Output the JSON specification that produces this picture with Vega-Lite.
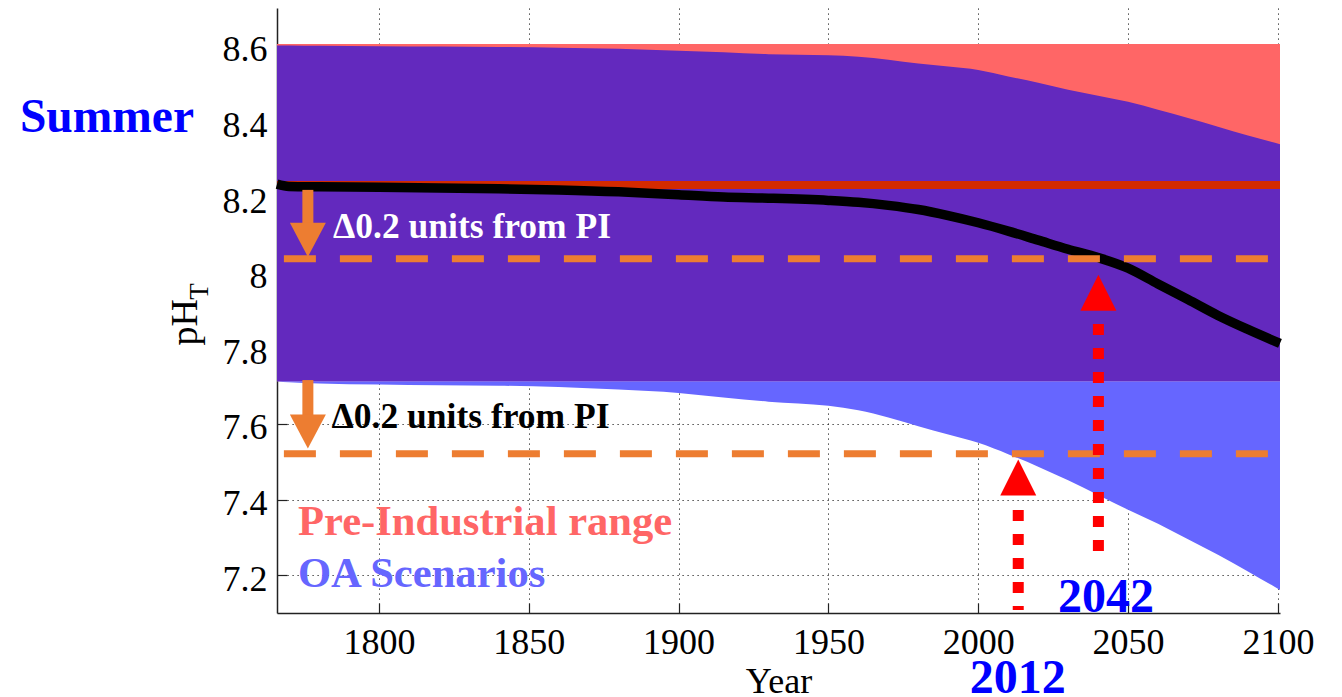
{
  "$schema": "https://vega.github.io/schema/vega-lite/v6.json",
  "width": 1003,
  "height": 605,
  "autosize": {"type": "none"},
  "padding": {"left": 277, "top": 8, "right": 62, "bottom": 84},
  "background": "white",
  "config": {
    "font": "Liberation Serif, Times New Roman, serif",
    "view": {"stroke": null},
    "text": {"font": "Liberation Serif, Times New Roman, serif"},
    "axis": {
      "labelFont": "Liberation Serif, Times New Roman, serif",
      "titleFont": "Liberation Serif, Times New Roman, serif",
      "labelFontSize": 36,
      "titleFontSize": 36,
      "titleFontWeight": "normal",
      "labelColor": "black",
      "titleColor": "black",
      "tickColor": "#222",
      "tickSize": -10,
      "tickWidth": 1.2,
      "domainColor": "#222",
      "domainWidth": 1.5,
      "grid": true,
      "gridColor": "#222",
      "gridDash": [1.2, 3.8],
      "gridWidth": 1,
      "gridOpacity": 1,
      "zindex": 1,
      "labelFlush": false,
      "labelOverlap": false
    }
  },
  "datasets": {
    "series": [
      {"year": 1766, "oa_hi": 8.601, "oa_lo": 7.712, "oa_mean": 8.234, "pi_hi": 8.605, "pi_lo": 7.713, "pi_mean": 8.232},
      {"year": 1770, "oa_hi": 8.601, "oa_lo": 7.710, "oa_mean": 8.228, "pi_hi": 8.605, "pi_lo": 7.713, "pi_mean": 8.232},
      {"year": 1780, "oa_hi": 8.600, "oa_lo": 7.707, "oa_mean": 8.227, "pi_hi": 8.605, "pi_lo": 7.713, "pi_mean": 8.232},
      {"year": 1800, "oa_hi": 8.599, "oa_lo": 7.704, "oa_mean": 8.226, "pi_hi": 8.605, "pi_lo": 7.713, "pi_mean": 8.232},
      {"year": 1820, "oa_hi": 8.598, "oa_lo": 7.702, "oa_mean": 8.224, "pi_hi": 8.605, "pi_lo": 7.713, "pi_mean": 8.232},
      {"year": 1840, "oa_hi": 8.597, "oa_lo": 7.701, "oa_mean": 8.222, "pi_hi": 8.605, "pi_lo": 7.713, "pi_mean": 8.232},
      {"year": 1860, "oa_hi": 8.595, "oa_lo": 7.698, "oa_mean": 8.219, "pi_hi": 8.605, "pi_lo": 7.713, "pi_mean": 8.232},
      {"year": 1880, "oa_hi": 8.592, "oa_lo": 7.691, "oa_mean": 8.214, "pi_hi": 8.605, "pi_lo": 7.713, "pi_mean": 8.232},
      {"year": 1900, "oa_hi": 8.587, "oa_lo": 7.682, "oa_mean": 8.206, "pi_hi": 8.605, "pi_lo": 7.713, "pi_mean": 8.232},
      {"year": 1915, "oa_hi": 8.583, "oa_lo": 7.670, "oa_mean": 8.200, "pi_hi": 8.605, "pi_lo": 7.713, "pi_mean": 8.232},
      {"year": 1930, "oa_hi": 8.578, "oa_lo": 7.659, "oa_mean": 8.197, "pi_hi": 8.605, "pi_lo": 7.713, "pi_mean": 8.232},
      {"year": 1950, "oa_hi": 8.575, "oa_lo": 7.648, "oa_mean": 8.191, "pi_hi": 8.605, "pi_lo": 7.713, "pi_mean": 8.232},
      {"year": 1960, "oa_hi": 8.571, "oa_lo": 7.636, "oa_mean": 8.186, "pi_hi": 8.605, "pi_lo": 7.713, "pi_mean": 8.232},
      {"year": 1970, "oa_hi": 8.563, "oa_lo": 7.617, "oa_mean": 8.178, "pi_hi": 8.605, "pi_lo": 7.713, "pi_mean": 8.232},
      {"year": 1980, "oa_hi": 8.553, "oa_lo": 7.594, "oa_mean": 8.167, "pi_hi": 8.605, "pi_lo": 7.713, "pi_mean": 8.232},
      {"year": 1990, "oa_hi": 8.545, "oa_lo": 7.572, "oa_mean": 8.151, "pi_hi": 8.605, "pi_lo": 7.713, "pi_mean": 8.232},
      {"year": 2000, "oa_hi": 8.536, "oa_lo": 7.550, "oa_mean": 8.132, "pi_hi": 8.605, "pi_lo": 7.713, "pi_mean": 8.232},
      {"year": 2010, "oa_hi": 8.519, "oa_lo": 7.520, "oa_mean": 8.110, "pi_hi": 8.605, "pi_lo": 7.713, "pi_mean": 8.232},
      {"year": 2020, "oa_hi": 8.502, "oa_lo": 7.487, "oa_mean": 8.086, "pi_hi": 8.605, "pi_lo": 7.713, "pi_mean": 8.232},
      {"year": 2030, "oa_hi": 8.484, "oa_lo": 7.451, "oa_mean": 8.062, "pi_hi": 8.605, "pi_lo": 7.713, "pi_mean": 8.232},
      {"year": 2040, "oa_hi": 8.468, "oa_lo": 7.412, "oa_mean": 8.040, "pi_hi": 8.605, "pi_lo": 7.713, "pi_mean": 8.232},
      {"year": 2050, "oa_hi": 8.452, "oa_lo": 7.373, "oa_mean": 8.012, "pi_hi": 8.605, "pi_lo": 7.713, "pi_mean": 8.232},
      {"year": 2060, "oa_hi": 8.431, "oa_lo": 7.336, "oa_mean": 7.970, "pi_hi": 8.605, "pi_lo": 7.713, "pi_mean": 8.232},
      {"year": 2070, "oa_hi": 8.409, "oa_lo": 7.295, "oa_mean": 7.929, "pi_hi": 8.605, "pi_lo": 7.713, "pi_mean": 8.232},
      {"year": 2080, "oa_hi": 8.386, "oa_lo": 7.254, "oa_mean": 7.887, "pi_hi": 8.605, "pi_lo": 7.713, "pi_mean": 8.232},
      {"year": 2090, "oa_hi": 8.363, "oa_lo": 7.210, "oa_mean": 7.850, "pi_hi": 8.605, "pi_lo": 7.713, "pi_mean": 8.232},
      {"year": 2100.7, "oa_hi": 8.340, "oa_lo": 7.161, "oa_mean": 7.813, "pi_hi": 8.605, "pi_lo": 7.713, "pi_mean": 8.232}
    ],
    "thresholds": [
      {"start": 1768.3, "end": 2096.7, "value": 8.037},
      {"start": 1768.3, "end": 2096.7, "value": 7.521}
    ],
    "pi_arrows": [
      {"year": 1776.3, "from": 8.219, "to": 8.125, "head": 8.087},
      {"year": 1776.3, "from": 7.716, "to": 7.62, "head": 7.58}
    ],
    "oa_arrows": [
      {"year": 2013.35, "from": 7.3727, "to": 7.108, "head": 7.4583},
      {"year": 2040.1, "from": 7.864, "to": 7.256, "head": 7.947}
    ],
    "labels": [
      {"kind": "season", "label": "Summer", "year": 1680.2, "ph": 8.372},
      {"kind": "delta_white", "label": "Δ0.2 units from PI", "year": 1784.7, "ph": 8.091},
      {"kind": "delta_black", "label": "Δ0.2 units from PI", "year": 1784.2, "ph": 7.588},
      {"kind": "pi_legend", "label": "Pre-Industrial range", "year": 1773.0, "ph": 7.306},
      {"kind": "oa_legend", "label": "OA Scenarios", "year": 1773.0, "ph": 7.1695},
      {"kind": "year_mark", "label": "2042", "year": 2026.6, "ph": 7.103},
      {"kind": "year_mark", "label": "2012", "year": 1997.2, "ph": 6.888},
      {"kind": "axis_title", "label": "pH", "year": 1739.3, "ph": 7.869},
      {"kind": "subscript", "label": "T", "year": 1739.3, "ph": 7.950}
    ]
  },
  "layer": [
    {
      "data": {"name": "series"},
      "mark": {"type": "area", "color": "#FF6666", "interpolate": "monotone"},
      "encoding": {
        "x": {"field": "year", "type": "quantitative", "scale": {"domain": [1766, 2100.7], "nice": false, "zero": false},
              "axis": {"values": [1800, 1850, 1900, 1950, 2000, 2050, 2100], "format": "d", "title": "Year", "labelPadding": 22, "titlePadding": 4}},
        "y": {"field": "pi_hi", "type": "quantitative", "scale": {"domain": [7.1, 8.7], "nice": false, "zero": false},
              "axis": {"values": [7.2, 7.4, 7.6, 7.8, 8, 8.2, 8.4, 8.6], "format": "~g", "title": null, "labelPadding": 20, "labelOffset": 4}},
        "y2": {"field": "pi_lo"}
      }
    },
    {
      "data": {"name": "series"},
      "mark": {"type": "area", "color": "#6666FF", "interpolate": "monotone"},
      "encoding": {
        "x": {"field": "year", "type": "quantitative"},
        "y": {"field": "oa_lo", "type": "quantitative"},
        "y2": {"field": "pi_lo"}
      }
    },
    {
      "data": {"name": "series"},
      "mark": {"type": "area", "color": "#6329BE", "interpolate": "monotone"},
      "encoding": {
        "x": {"field": "year", "type": "quantitative"},
        "y": {"field": "oa_hi", "type": "quantitative"},
        "y2": {"field": "pi_lo"}
      }
    },
    {
      "data": {"name": "series"},
      "mark": {"type": "line", "color": "#D42A00", "strokeWidth": 8, "strokeCap": "butt"},
      "encoding": {
        "x": {"field": "year", "type": "quantitative"},
        "y": {"field": "pi_mean", "type": "quantitative"}
      }
    },
    {
      "data": {"name": "series"},
      "mark": {"type": "line", "color": "black", "strokeWidth": 9.5, "strokeCap": "butt", "interpolate": "monotone"},
      "encoding": {
        "x": {"field": "year", "type": "quantitative"},
        "y": {"field": "oa_mean", "type": "quantitative"}
      }
    },
    {
      "data": {"name": "thresholds"},
      "mark": {"type": "rule", "color": "#ED7D31", "strokeWidth": 7, "strokeDash": [32, 24], "strokeCap": "butt"},
      "encoding": {
        "x": {"field": "start", "type": "quantitative"},
        "x2": {"field": "end"},
        "y": {"field": "value", "type": "quantitative"}
      }
    },
    {
      "data": {"name": "pi_arrows"},
      "mark": {"type": "rule", "color": "#ED7D31", "strokeWidth": 11, "strokeCap": "butt"},
      "encoding": {
        "x": {"field": "year", "type": "quantitative"},
        "y": {"field": "from", "type": "quantitative"},
        "y2": {"field": "to"}
      }
    },
    {
      "data": {"name": "pi_arrows"},
      "mark": {"type": "point", "shape": "M0,0.95L-1,-0.95L1,-0.95Z", "size": 1296, "filled": true, "color": "#ED7D31", "opacity": 1},
      "encoding": {
        "x": {"field": "year", "type": "quantitative"},
        "y": {"field": "head", "type": "quantitative"}
      }
    },
    {
      "data": {"name": "oa_arrows"},
      "mark": {"type": "rule", "color": "#FF0000", "strokeWidth": 11, "strokeDash": [11, 13], "strokeCap": "butt"},
      "encoding": {
        "x": {"field": "year", "type": "quantitative"},
        "y": {"field": "from", "type": "quantitative"},
        "y2": {"field": "to"}
      }
    },
    {
      "data": {"name": "oa_arrows"},
      "mark": {"type": "point", "shape": "M0,-1L-1,1L1,1Z", "size": 1296, "filled": true, "color": "#FF0000", "opacity": 1},
      "encoding": {
        "x": {"field": "year", "type": "quantitative"},
        "y": {"field": "head", "type": "quantitative"}
      }
    },
    {
      "data": {"name": "labels"},
      "transform": [{"filter": "datum.kind === 'season'"}],
      "mark": {"type": "text", "align": "left", "baseline": "alphabetic", "fontSize": 47.5, "fontWeight": "bold", "color": "#0000FF"},
      "encoding": {
        "x": {"field": "year", "type": "quantitative"},
        "y": {"field": "ph", "type": "quantitative"},
        "text": {"field": "label"}
      }
    },
    {
      "data": {"name": "labels"},
      "transform": [{"filter": "datum.kind === 'delta_white'"}],
      "mark": {"type": "text", "align": "left", "baseline": "alphabetic", "fontSize": 35.5, "fontWeight": "bold", "color": "white"},
      "encoding": {
        "x": {"field": "year", "type": "quantitative"},
        "y": {"field": "ph", "type": "quantitative"},
        "text": {"field": "label"}
      }
    },
    {
      "data": {"name": "labels"},
      "transform": [{"filter": "datum.kind === 'delta_black'"}],
      "mark": {"type": "text", "align": "left", "baseline": "alphabetic", "fontSize": 35.5, "fontWeight": "bold", "color": "black"},
      "encoding": {
        "x": {"field": "year", "type": "quantitative"},
        "y": {"field": "ph", "type": "quantitative"},
        "text": {"field": "label"}
      }
    },
    {
      "data": {"name": "labels"},
      "transform": [{"filter": "datum.kind === 'pi_legend'"}],
      "mark": {"type": "text", "align": "left", "baseline": "alphabetic", "fontSize": 42.6, "fontWeight": "bold", "color": "#FF6666"},
      "encoding": {
        "x": {"field": "year", "type": "quantitative"},
        "y": {"field": "ph", "type": "quantitative"},
        "text": {"field": "label"}
      }
    },
    {
      "data": {"name": "labels"},
      "transform": [{"filter": "datum.kind === 'oa_legend'"}],
      "mark": {"type": "text", "align": "left", "baseline": "alphabetic", "fontSize": 42.6, "fontWeight": "bold", "color": "#6666FF"},
      "encoding": {
        "x": {"field": "year", "type": "quantitative"},
        "y": {"field": "ph", "type": "quantitative"},
        "text": {"field": "label"}
      }
    },
    {
      "data": {"name": "labels"},
      "transform": [{"filter": "datum.kind === 'year_mark'"}],
      "mark": {"type": "text", "align": "left", "baseline": "alphabetic", "fontSize": 48, "fontWeight": "bold", "color": "#0000FF"},
      "encoding": {
        "x": {"field": "year", "type": "quantitative"},
        "y": {"field": "ph", "type": "quantitative"},
        "text": {"field": "label"}
      }
    },
    {
      "data": {"name": "labels"},
      "transform": [{"filter": "datum.kind === 'axis_title'"}],
      "mark": {"type": "text", "align": "center", "baseline": "alphabetic", "angle": 270, "fontSize": 38, "color": "black"},
      "encoding": {
        "x": {"field": "year", "type": "quantitative"},
        "y": {"field": "ph", "type": "quantitative"},
        "text": {"field": "label"}
      }
    },
    {
      "data": {"name": "labels"},
      "transform": [{"filter": "datum.kind === 'subscript'"}],
      "mark": {"type": "text", "align": "center", "baseline": "middle", "angle": 270, "fontSize": 27, "dy": 3, "color": "black"},
      "encoding": {
        "x": {"field": "year", "type": "quantitative"},
        "y": {"field": "ph", "type": "quantitative"},
        "text": {"field": "label"}
      }
    }
  ]
}
